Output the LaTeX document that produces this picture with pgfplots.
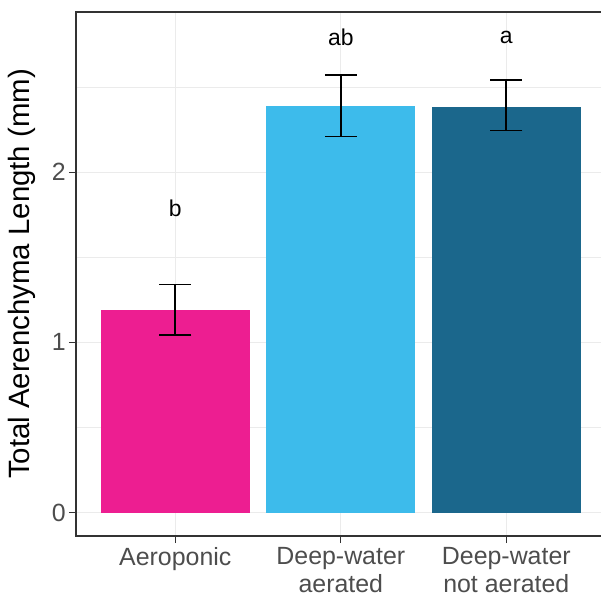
\documentclass[border=0pt]{standalone}
\usepackage{fontspec}
\setmainfont{Liberation Sans}
\usepackage{pgfplots}
\pgfplotsset{compat=1.18}
\definecolor{pinkbar}{HTML}{ED1E91}
\definecolor{lightbluebar}{HTML}{3DBBEB}
\definecolor{darkbluebar}{HTML}{1B678C}
\definecolor{grid92}{HTML}{EBEBEB}
\definecolor{grey20}{HTML}{333333}
\definecolor{grey30}{HTML}{4D4D4D}
\begin{document}
\begin{tikzpicture}
\begin{axis}[
  scale only axis,
  width=525bp, height=524bp,
  xmin=0.4, xmax=3.5722,
  ymin=-0.138, ymax=2.941,
  xtick={1,2,3},
  xticklabels={Aeroponic,{Deep-water\\aerated},{Deep-water\\not aerated}},
  ytick={0,1,2},
  minor ytick={0.5,1.5,2.5},
  xmajorgrids, ymajorgrids, yminorgrids,
  major grid style={grid92, line width=1.1bp},
  minor grid style={grid92, line width=0.6bp},
  tick pos=left,
  tick align=outside,
  major tick length=7bp,
  minor tick length=0pt,
  tick style={grey20, line width=1.1bp},
  axis line style={draw=none},
  /pgf/number format/assume math mode=true,
  ticklabel style={font=\fontsize{25}{28.5}\selectfont, text=grey30},
  xticklabel style={align=center, inner sep=2bp, yshift=-2bp},
  yticklabel style={inner sep=3bp},
  ylabel={Total Aerenchyma Length (mm)},
  every axis y label/.style={at={(rel axis cs:0,0.5)}, xshift=-54bp, rotate=90, anchor=center, font=\fontsize{29.5}{32}\selectfont, text=black},
  clip=false,
  after end axis/.code={
    \draw[grey20, line width=1.1bp] (rel axis cs:1,1) -- (rel axis cs:0,1) -- (rel axis cs:0,0) -- (rel axis cs:1,0);
    \coordinate (ll) at (rel axis cs:0,0);
    \coordinate (ur) at (rel axis cs:1,1);
  },
]
\addplot[ybar, bar width=0.9, bar shift=0pt, fill=pinkbar, draw=none] coordinates {(1,1.19)};
\addplot[ybar, bar width=0.9, bar shift=0pt, fill=lightbluebar, draw=none] coordinates {(2,2.39)};
\addplot[ybar, bar width=0.9, bar shift=0pt, fill=darkbluebar, draw=none] coordinates {(3,2.385)};
\addplot[draw=none, mark=none,
  error bars/.cd, y dir=both, y explicit,
  error mark=|,
  error bar style={black, line width=1.8bp},
  error mark options={black, line width=1.8bp, mark size=16bp}]
  table[x=x, y=y, y error plus=ep, y error minus=em] {
x y ep em
1 1.19 0.15 0.145
2 2.39 0.18 0.18
3 2.385 0.155 0.14
};
\addplot[draw=none, mark=none, nodes near coords, point meta=explicit symbolic,
  nodes near coords style={anchor=center, font=\fontsize{23}{25}\selectfont, text=black}]
  table[x=x, y=y, meta=lab] {
x y lab
1 1.79 b
2 2.79 ab
3 2.79 a
};
\end{axis}
\pgfresetboundingbox
\path ([xshift=-76bp, yshift=-63bp]ll) rectangle ([yshift=12bp]ur);
\end{tikzpicture}
\end{document}
